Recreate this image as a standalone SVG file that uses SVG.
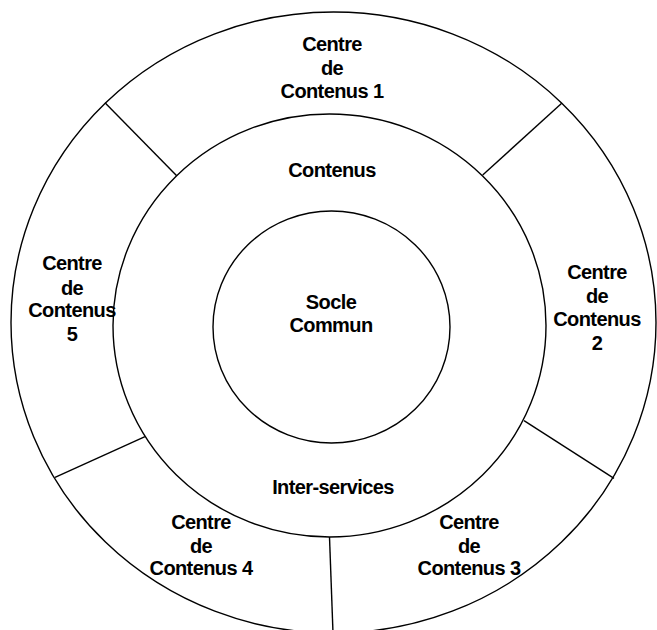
<svg xmlns="http://www.w3.org/2000/svg" width="657" height="630" viewBox="0 0 657 630">
<style>
.ring{fill:none;stroke:#000;stroke-width:1.4}
.div{stroke:#000;stroke-width:1.4;fill:none}
text{font-family:"Liberation Sans",Arial,Helvetica,sans-serif;font-weight:bold;font-size:20px;letter-spacing:-0.6px;fill:#000;text-anchor:middle}
</style>
<rect x="0" y="0" width="657" height="630" fill="#fff"/>
<g id="outer-ring"><ellipse class="ring" cx="333.5" cy="322.5" rx="322.5" ry="310.5"/></g>
<g id="contenus-ring"><ellipse class="ring" cx="329.5" cy="325.5" rx="216.5" ry="211.5"/>
<text x="332" y="177">Contenus</text>
<text x="333" y="494">Inter-services</text></g>
<g id="socle-commun"><ellipse class="ring" cx="331.5" cy="327" rx="118.5" ry="116"/>
<text x="331" y="309">Socle</text>
<text x="331" y="332">Commun</text></g>
<g id="connectors">
<line class="div" x1="105" y1="102.7" x2="176.7" y2="175.7"/>
<line class="div" x1="561.7" y1="103.3" x2="482.7" y2="175"/>
<line class="div" x1="55" y1="477.3" x2="145" y2="436.7"/>
<line class="div" x1="524" y1="420.7" x2="614" y2="478.3"/>
<line class="div" x1="329.5" y1="537" x2="333" y2="633"/>
</g>
<g id="centre1"><text x="332" y="51">Centre</text><text x="332" y="75">de</text><text x="332" y="98">Contenus 1</text></g>
<g id="centre2"><text x="597" y="279">Centre</text><text x="597" y="303">de</text><text x="597" y="326">Contenus</text><text x="597" y="350">2</text></g>
<g id="centre3"><text x="469" y="529">Centre</text><text x="469" y="553">de</text><text x="469" y="575">Contenus 3</text></g>
<g id="centre4"><text x="201" y="529">Centre</text><text x="201" y="553">de</text><text x="201" y="575">Contenus 4</text></g>
<g id="centre5"><text x="72" y="270">Centre</text><text x="72" y="295">de</text><text x="72" y="317">Contenus</text><text x="72" y="341">5</text></g>
</svg>
